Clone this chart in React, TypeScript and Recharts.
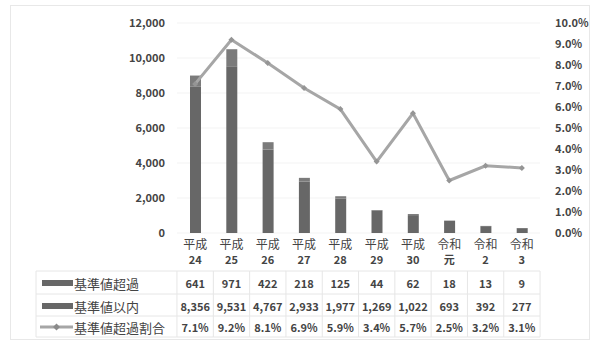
import React from 'react';
import { ComposedChart, Bar, Line, XAxis, YAxis, CartesianGrid } from 'recharts';

const eraNames = ['平成', '平成', '平成', '平成', '平成', '平成', '平成', '令和', '令和', '令和'];
const eraYears = ['24', '25', '26', '27', '28', '29', '30', '元', '2', '3'];
const overCounts = [641, 971, 422, 218, 125, 44, 62, 18, 13, 9];
const withinCounts = [8356, 9531, 4767, 2933, 1977, 1269, 1022, 693, 392, 277];
const overRatio = [7.1, 9.2, 8.1, 6.9, 5.9, 3.4, 5.7, 2.5, 3.2, 3.1];
const countTicks = [0, 2000, 4000, 6000, 8000, 10000, 12000];
const ratioTicks = [0, 1, 2, 3, 4, 5, 6, 7, 8, 9, 10];

const seriesNames = ['基準値超過', '基準値以内', '基準値超過割合'];

const data = eraYears.map((y, i) => ({
  name: eraNames[i] + y,
  over: overCounts[i],
  within: withinCounts[i],
  ratio: overRatio[i],
}));

const FONT = '"Noto Sans CJK JP", "Noto Sans", sans-serif';
const TEXT = '#444444';
const GRID = '#e6e6e6';
const BAR_DARK = '#676767';
const BAR_LIGHT = '#7b7b7b';
const LINE = '#a6a6a6';

const fmt = (n: number) => n.toLocaleString('en-US');

// rows of the data table, relative to the bottom of the plot
const rowY = [50, 73, 94];
const hLines = [38, 61, 83, 104];
const HALF = 18.2;

const TableTick = (props: any) => {
  const { x, y, payload, index } = props;
  const i = index ?? payload.index;
  const vals = [fmt(overCounts[i]), fmt(withinCounts[i]), overRatio[i].toFixed(1) + '%'];
  return (
    <g>
      <text x={x} y={y + 10} textAnchor="middle" dominantBaseline="central" fontSize={12} fill={TEXT}>
        {eraNames[i]}
      </text>
      <text x={x} y={y + 26} textAnchor="middle" dominantBaseline="central" fontSize={11} fontWeight={700} fill={TEXT}>
        {eraYears[i]}
      </text>
      {hLines.map((h) => (
        <line key={h} x1={x - HALF} x2={x + HALF} y1={y + h} y2={y + h} stroke={GRID} />
      ))}
      <line x1={x + HALF} x2={x + HALF} y1={y + hLines[0]} y2={y + hLines[3]} stroke={GRID} />
      {vals.map((v, r) => (
        <text key={r} x={x} y={y + rowY[r]} textAnchor="middle" dominantBaseline="central" fontSize={11} fontWeight={700} fill={TEXT}>
          {v}
        </text>
      ))}
      {i === 0 && (
        <g>
          {hLines.map((h) => (
            <line key={'l' + h} x1={36} x2={x - HALF} y1={y + h} y2={y + h} stroke={GRID} />
          ))}
          <line x1={36} x2={36} y1={y + hLines[0]} y2={y + hLines[3]} stroke={GRID} />
          <line x1={x - HALF} x2={x - HALF} y1={y + hLines[0]} y2={y + hLines[3]} stroke={GRID} />
          <rect x={42} y={y + rowY[0] - 3} width={31} height={6} fill={BAR_DARK} />
          <rect x={42} y={y + rowY[1] - 3} width={31} height={6} fill={BAR_DARK} />
          <line x1={40} x2={73} y1={y + rowY[2]} y2={y + rowY[2]} stroke={LINE} strokeWidth={3} />
          <path d={`M56.5 ${y + rowY[2] - 3.5} l3.5 3.5 l-3.5 3.5 l-3.5 -3.5 z`} fill="#8a8a8a" />
          {seriesNames.map((s, r) => (
            <text key={s} x={74} y={y + rowY[r]} dominantBaseline="central" fontSize={13} fill={TEXT}>
              {s}
            </text>
          ))}
        </g>
      )}
    </g>
  );
};

const Diamond = (props: any) => {
  const { cx, cy } = props;
  if (cx == null || cy == null) return null;
  return <path d={`M${cx} ${cy - 3} l3 3 l-3 3 l-3 -3 z`} fill="#959595" />;
};

const tickStyle = { fontSize: 11, fill: TEXT, fontWeight: 700 };

export default function App() {
  return (
    <div style={{ position: 'absolute', left: 0, top: 0, width: 594, height: 343, background: '#fff', fontFamily: FONT }}>
      <div style={{ position: 'absolute', left: 10, top: 5, width: 578, height: 333, border: '1px solid #e8e8e8' }} />
      <ComposedChart width={594} height={343} data={data} margin={{ top: 23, right: 0, left: 0, bottom: 5 }} barSize={11}>
        <CartesianGrid yAxisId="left" vertical={false} stroke="#f3f3f3" />
        <XAxis
          dataKey="name"
          axisLine={false}
          tickLine={false}
          tickSize={0}
          tickMargin={0}
          height={105}
          interval={0}
          tick={<TableTick />}
        />
        <YAxis
          yAxisId="left"
          width={177}
          domain={[0, 12000]}
          ticks={countTicks}
          axisLine={false}
          tickLine={false}
          tickMargin={6}
          tick={tickStyle}
          tickFormatter={(v: number) => fmt(v)}
        />
        <YAxis
          yAxisId="right"
          orientation="right"
          width={54}
          domain={[0, 10]}
          ticks={ratioTicks}
          axisLine={false}
          tickLine={false}
          tickMargin={9}
          tick={{ ...tickStyle, textAnchor: 'start' }}
          tickFormatter={(v: number) => v.toFixed(1) + '%'}
        />
        <Bar yAxisId="left" dataKey="within" stackId="a" fill={BAR_DARK} isAnimationActive={false} />
        <Bar yAxisId="left" dataKey="over" stackId="a" fill={BAR_LIGHT} isAnimationActive={false} />
        <Line
          yAxisId="right"
          dataKey="ratio"
          stroke={LINE}
          strokeWidth={3}
          dot={<Diamond />}
          activeDot={false}
          isAnimationActive={false}
        />
      </ComposedChart>
    </div>
  );
}
